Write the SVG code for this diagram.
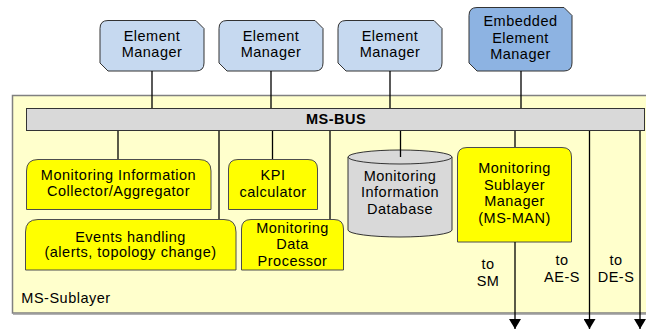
<svg xmlns="http://www.w3.org/2000/svg" width="646" height="329" viewBox="0 0 646 329">
<style>
text{font-family:"Liberation Sans",Arial,sans-serif;font-size:14.5px;fill:#000;text-anchor:middle;letter-spacing:0.5px}
.em{fill:#C6D9F0;stroke:#333;stroke-width:1}
.emb{fill:#8DB3E2;stroke:#333;stroke-width:1}
.yb{fill:#FFFF00;stroke:#4d4d4d;stroke-width:1}
.gr{fill:#D9D9D9;stroke:#333;stroke-width:1}
.ln{stroke:#000;stroke-width:1.3;fill:none}
</style>
<defs>
<marker id="ah" markerWidth="12" markerHeight="12" refX="10" refY="6" orient="auto" markerUnits="userSpaceOnUse">
<path d="M0,0 L10,6 L0,12 Z" fill="#000"/>
</marker>
</defs>
<rect x="0" y="0" width="646" height="329" fill="#fff"/>
<g id="ms-sublayer">
<rect x="12.5" y="95.5" width="640" height="217.5" fill="#FFFFCC" stroke="#808080" stroke-width="1.5"/>
<line x1="13" y1="314" x2="646" y2="314" stroke="#9a9a9a" stroke-width="1.5"/>
<text x="66" y="303">MS-Sublayer</text>
</g>
<g id="em1">
<path class="em" d="M108,20.5 H196 L204,28.5 V63 Q204,71 196,71 H108 L100,63 V28.5 Q100,20.5 108,20.5 Z"/>
<text x="152" y="41">Element</text><text x="152" y="57">Manager</text>
</g>
<g id="em2">
<path class="em" d="M227,20.5 H315 L323,28.5 V63 Q323,71 315,71 H227 L219,63 V28.5 Q219,20.5 227,20.5 Z"/>
<text x="271" y="41">Element</text><text x="271" y="57">Manager</text>
</g>
<g id="em3">
<path class="em" d="M346,20.5 H434 L442,28.5 V63 Q442,71 434,71 H346 L338,63 V28.5 Q338,20.5 346,20.5 Z"/>
<text x="390" y="41">Element</text><text x="390" y="57">Manager</text>
</g>
<g id="embedded-em">
<path class="emb" d="M477,7.5 H564 L572,15.5 V63 Q572,71 564,71 H477 L469,63 V15.5 Q469,7.5 477,7.5 Z"/>
<text x="520.5" y="26">Embedded</text><text x="520.5" y="43">Element</text><text x="520.5" y="59">Manager</text>
</g>
<g id="ms-bus">
<rect x="26.5" y="108.5" width="618" height="22" class="gr"/>
<text x="336" y="124" style="font-weight:bold;letter-spacing:0.5px">MS-BUS</text>
</g>
<g id="collector">
<path class="yb" d="M26.5,209.5 V171 Q26.5,159.5 38,159.5 H199 Q211,159.5 211,171 V209.5 Z"/>
<text x="118.5" y="180">Monitoring Information</text><text x="118.5" y="196">Collector/Aggregator</text>
</g>
<g id="kpi">
<path class="yb" d="M228.5,209.5 V169 Q228.5,159.5 238,159.5 H308 Q317.5,159.5 317.5,169 V209.5 Z"/>
<text x="273" y="180">KPI</text><text x="273" y="197">calculator</text>
</g>
<g id="events">
<path class="yb" d="M25.5,270 V232 Q25.5,219.5 38,219.5 H224 Q236,219.5 236,232 V270 Z"/>
<text x="130.5" y="242">Events handling</text><text x="130.5" y="257">(alerts, topology change)</text>
</g>
<g id="mdp">
<path class="yb" d="M241.5,270 V229 Q241.5,219.5 251,219.5 H334 Q343.5,219.5 343.5,229 V270 Z"/>
<text x="292.5" y="233">Monitoring</text><text x="292.5" y="249">Data</text><text x="292.5" y="266">Processor</text>
</g>
<g id="database">
<path class="gr" d="M348,157 V230 A52,7 0 0 0 452,230 V157"/>
<ellipse cx="400" cy="157" rx="52" ry="7" class="gr"/>
<text x="400" y="181">Monitoring</text><text x="400" y="197">Information</text><text x="400" y="214">Database</text>
</g>
<g id="ms-man">
<path class="yb" d="M457.5,242 V157 Q457.5,147.5 467,147.5 H562 Q571.5,147.5 571.5,157 V242 Z"/>
<text x="514.5" y="173">Monitoring</text><text x="514.5" y="190">Sublayer</text><text x="514.5" y="206">Manager</text><text x="514.5" y="223">(MS-MAN)</text>
</g>
<g id="connectors">
<line class="ln" x1="152" y1="71" x2="152" y2="108"/>
<line class="ln" x1="271" y1="71" x2="271" y2="108"/>
<line class="ln" x1="390" y1="71" x2="390" y2="108"/>
<line class="ln" x1="521" y1="71" x2="521" y2="108"/>
<line class="ln" x1="118" y1="131" x2="118" y2="159"/>
<line class="ln" x1="219" y1="131" x2="219" y2="219"/>
<line class="ln" x1="272.5" y1="131" x2="272.5" y2="159"/>
<line class="ln" x1="330" y1="131" x2="330" y2="219"/>
<line class="ln" x1="400.5" y1="131" x2="400.5" y2="157"/>
<line class="ln" x1="515" y1="131" x2="515" y2="147"/>
<line class="ln" x1="515" y1="242" x2="515" y2="329" marker-end="url(#ah)"/>
<line class="ln" x1="589.5" y1="131" x2="589.5" y2="329" marker-end="url(#ah)"/>
<line class="ln" x1="640" y1="131" x2="640" y2="329" marker-end="url(#ah)"/>
</g>
<g id="labels">
<text x="488" y="269">to</text><text x="488" y="286">SM</text>
<text x="562" y="265">to</text><text x="562" y="282">AE-S</text>
<text x="616" y="265">to</text><text x="616" y="282">DE-S</text>
</g>
</svg>
